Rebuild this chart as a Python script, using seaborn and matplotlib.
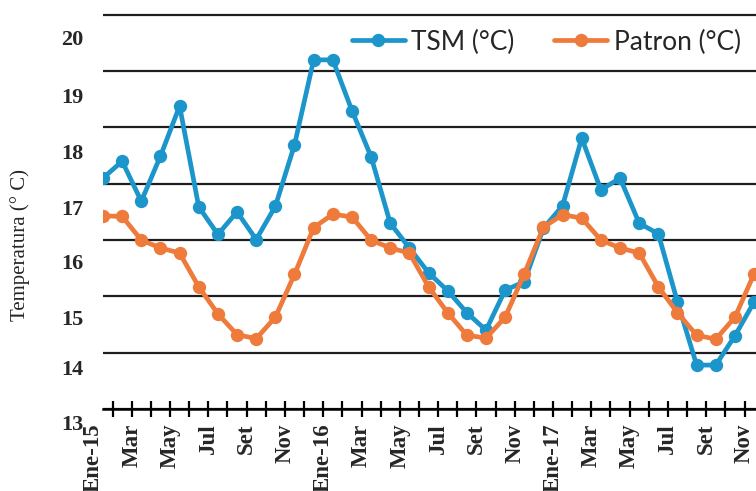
import numpy as np
import pandas as pd
import matplotlib
matplotlib.use("Agg")
import matplotlib.pyplot as plt
import matplotlib.transforms as mtransforms
import seaborn as sns

# monthly values, Ene-15 .. Nov-17
tsm = [17.10, 17.40, 16.69, 17.49, 18.38, 16.59, 16.10, 16.50, 16.01, 16.60, 17.69, 19.20,
       19.20, 18.30, 17.48, 16.30, 15.86, 15.42, 15.10, 14.71, 14.40, 15.11, 15.26, 16.21,
       16.61, 17.81, 16.89, 17.10, 16.30, 16.11, 14.90, 13.78, 13.78, 14.30, 14.90]
patron = [16.43, 16.42, 16.00, 15.86, 15.77, 15.17, 14.69, 14.32, 14.25, 14.63, 15.39, 16.22,
          16.46, 16.41, 16.00, 15.86, 15.77, 15.17, 14.71, 14.31, 14.26, 14.63, 15.40, 16.23,
          16.45, 16.39, 16.00, 15.86, 15.77, 15.17, 14.71, 14.31, 14.24, 14.63, 15.40]
month_labels = ["Ene-15", "Mar", "May", "Jul", "Set", "Nov",
                "Ene-16", "Mar", "May", "Jul", "Set", "Nov",
                "Ene-17", "Mar", "May", "Jul", "Set", "Nov"]
y_ticks = [13, 14, 15, 16, 17, 18, 19, 20]

blue = "#1C96CA"
orange = "#EE7A3B"
serif = "Liberation Serif"

df = pd.DataFrame({"mes": np.arange(len(tsm)), "TSM (°C)": tsm, "Patron (°C)": patron})

sns.set_style("white")

fig = plt.figure(figsize=(7.56, 4.91), dpi=100)
ax = fig.add_axes([103 / 756, 82 / 491, 653 / 756, 397 / 491])

sns.lineplot(data=df, x="mes", y="TSM (°C)", color=blue, marker="o", markersize=9.6,
             markeredgewidth=0, linewidth=3.4, label="TSM (°C)", ax=ax)
sns.lineplot(data=df, x="mes", y="Patron (°C)", color=orange, marker="o", markersize=9.6,
             markeredgewidth=0, linewidth=3.4, label="Patron (°C)", ax=ax)

ax.set_xlim(0, 34.1)
ax.set_ylim(13, 20.05)
ax.set_xlabel("")
ax.set_ylabel("")

# y axis: gridlines at integers, labels sit a bit below them
ax.set_yticks(y_ticks)
ax.set_yticklabels([str(v) for v in y_ticks], fontsize=16, fontweight="bold", family=serif)
ax.tick_params(axis="y", length=0, pad=14)
label_drop = [13, 15, 21, 21, 24, 24, 24, 23]  # px, as in the original layout
for lab, d in zip(ax.get_yticklabels(), label_drop):
    lab.set_transform(lab.get_transform() +
                      mtransforms.ScaledTranslation(0, -d / 100, fig.dpi_scale_trans))
ax.grid(axis="y", color="#1e1e1e", linewidth=1.6)
ax.grid(axis="x", visible=False)
ax.set_axisbelow(True)

# x axis: ticks between months, labels every two months
major_pos = [2 * k - 0.5 for k in range(1, len(month_labels))]
ax.set_xticks(major_pos)
ax.set_xticklabels(month_labels[1:], rotation=90, fontsize=16.5, fontweight="bold", family=serif)
ax.set_xticks([i + 0.5 for i in range(34)], minor=True)
ax.tick_params(axis="x", which="both", direction="inout", length=11, width=1.6,
               color="black", pad=5, bottom=True)
ax.annotate(month_labels[0], xy=(-0.5, 0), xycoords=ax.get_xaxis_transform(),
            xytext=(0, -10.5), textcoords="offset points", rotation=90,
            ha="center", va="top", fontsize=16.5, fontweight="bold", family=serif,
            annotation_clip=False)

for s in ["left", "top", "right"]:
    ax.spines[s].set_visible(False)
ax.spines["bottom"].set_color("black")
ax.spines["bottom"].set_linewidth(1.8)

ax.legend(loc="center left", bbox_to_anchor=(352 / 756, 1 - 42 / 491),
          bbox_transform=fig.transFigure, ncol=2, frameon=False,
          prop={"family": "Lato", "size": 19}, handlelength=2.0,
          handletextpad=0.25, columnspacing=1.5, borderpad=0, borderaxespad=0)

fig.text(20 / 756, 1 - 245 / 491, "Temperatura (° C)", rotation=90, ha="center",
         va="center", fontsize=15, family=serif)

fig.savefig("out.png", dpi=100)
